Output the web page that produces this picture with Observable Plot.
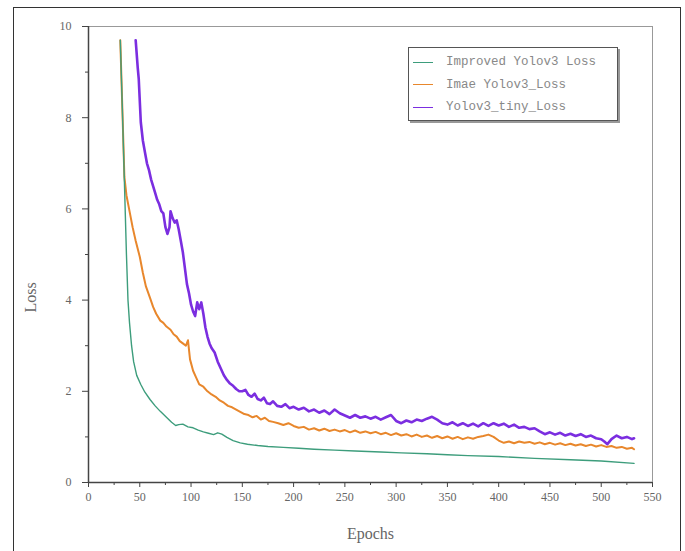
<!DOCTYPE html>
<html>
<head>
<meta charset="utf-8">
<script src="https://cdn.jsdelivr.net/npm/d3@7"></script>
<script src="https://cdn.jsdelivr.net/npm/@observablehq/plot@0.6"></script>
<style>
  html, body { margin: 0; padding: 0; background: #fff; }
  #wrap { position: relative; width: 685px; height: 551px; overflow: hidden; }
  #border { position: absolute; left: 13px; top: 7px; width: 668px; height: 560px; border: 1.5px solid #333; box-sizing: border-box; }
  #legend { position: absolute; left: 408px; top: 47px; width: 210px; height: 74px; border: 1.5px solid #555;
            box-shadow: 2px 2px 0 #999; background: #fff; box-sizing: border-box;
            font-family: "Liberation Mono", monospace; font-size: 12.5px; color: #888; }
  .row { position: absolute; left: 4px; height: 14px; display: flex; align-items: center; white-space: nowrap; }
  .sw { display: inline-block; width: 20px; height: 0; border-top: 1.5px solid; margin-right: 13px; }
  svg { position: absolute; left: 0; top: 0; }
</style>
</head>
<body>
<div id="wrap">
  <div id="border"></div>
</div>
<script>
// ---- data ----
const seriesNames = ["Improved Yolov3 Loss", "Imae Yolov3_Loss", "Yolov3_tiny_Loss"];
const seriesColors = ["#3d9d7c", "#e8872c", "#7b2ee0"];

const greenEpochs = [31,33,35,37,38.5,40,42,44,47,51,55,60,65,70,76,81,85,88,92,97,102,107,112,117,122,126,130,135,141,148,155,165,175,190,205,220,240,260,285,305,330,350,370,400,435,470,500,532];
const greenLoss   = [9.7,8.2,6.6,5.0,4.0,3.5,3.0,2.65,2.35,2.15,1.98,1.82,1.68,1.56,1.43,1.32,1.25,1.27,1.28,1.22,1.2,1.15,1.11,1.08,1.05,1.09,1.06,0.99,0.92,0.87,0.84,0.81,0.79,0.77,0.75,0.73,0.71,0.69,0.67,0.65,0.63,0.61,0.59,0.57,0.53,0.5,0.47,0.42];

const orangeEpochs = [31,33,35,37,40,43,46,50,53,56,60,63,66,70,73,76,80,83,86,89,92,95,97,99,102,105,108,112,116,120,124,128,132,136,140,144,148,152,156,160,164,168,172,176,180,185,190,195,200,205,210,215,220,225,230,235,240,245,250,255,260,265,270,275,280,285,290,295,300,305,310,315,320,325,330,335,340,345,350,355,360,365,370,375,380,385,390,395,400,405,410,415,420,425,430,435,440,445,450,455,460,465,470,475,480,485,490,495,500,505,510,515,520,525,530,532];
const orangeLoss   = [9.7,8.2,6.7,6.3,5.95,5.6,5.3,4.95,4.6,4.3,4.05,3.85,3.7,3.55,3.5,3.42,3.35,3.25,3.2,3.1,3.05,3.0,3.12,2.7,2.45,2.3,2.15,2.1,2.0,1.93,1.88,1.8,1.75,1.68,1.65,1.6,1.55,1.5,1.48,1.43,1.46,1.38,1.42,1.35,1.33,1.3,1.26,1.3,1.24,1.2,1.22,1.16,1.19,1.14,1.18,1.13,1.16,1.12,1.15,1.1,1.14,1.09,1.12,1.08,1.11,1.06,1.09,1.04,1.08,1.03,1.06,1.01,1.05,1.0,1.03,0.98,1.02,0.97,1.01,0.96,1.0,0.95,0.99,0.96,1.0,1.02,1.05,1.0,0.92,0.87,0.9,0.86,0.9,0.87,0.89,0.85,0.88,0.84,0.87,0.83,0.86,0.82,0.85,0.81,0.84,0.8,0.83,0.79,0.82,0.78,0.8,0.76,0.78,0.74,0.76,0.73];

const purpleEpochs = [46,48,49,51,53,55,57,59,61,63,65,67,69,71,73,75,77,79,80,82,84,86,88,90,92,94,96,98,100,102,104,106,108,110,112,114,116,118,120,123,126,129,132,135,138,141,144,147,150,153,156,159,162,165,168,171,174,177,180,184,188,192,196,200,205,210,215,220,225,230,235,240,245,250,255,260,265,270,275,280,285,290,295,300,305,310,315,320,325,330,335,340,345,350,355,360,365,370,375,380,385,390,395,400,405,410,415,420,425,430,435,440,445,450,455,460,465,470,475,480,485,490,495,500,503,506,510,515,520,525,530,532];
const purpleLoss   = [9.7,9.1,8.85,7.9,7.5,7.25,7.0,6.85,6.65,6.5,6.35,6.2,6.1,5.95,5.9,5.6,5.45,5.6,5.95,5.8,5.7,5.75,5.55,5.3,5.05,4.7,4.35,4.15,3.9,3.75,3.65,3.95,3.8,3.95,3.7,3.4,3.2,3.05,2.95,2.85,2.65,2.5,2.35,2.25,2.17,2.12,2.05,2.0,2.0,2.03,1.92,1.88,1.95,1.83,1.8,1.86,1.74,1.72,1.78,1.68,1.66,1.72,1.63,1.66,1.6,1.64,1.56,1.6,1.53,1.58,1.5,1.6,1.52,1.47,1.42,1.48,1.42,1.45,1.4,1.44,1.38,1.43,1.48,1.35,1.3,1.36,1.32,1.38,1.35,1.4,1.44,1.38,1.3,1.27,1.32,1.25,1.3,1.24,1.29,1.23,1.3,1.24,1.3,1.25,1.29,1.22,1.27,1.2,1.22,1.17,1.19,1.12,1.06,1.1,1.05,1.09,1.03,1.07,1.02,1.06,1.0,1.03,0.97,0.95,0.9,0.84,0.95,1.03,0.97,1.0,0.95,0.97];

const xTicks = [0,50,100,150,200,250,300,350,400,450,500,550];
const xMinor = [25,75,125,175,225,275,325,375,425,475,525];
const yTicks = [0,2,4,6,8,10];
const yMinor = [1,3,5,7,9];

// ---- build table ----
const rows = [];
[[greenEpochs, greenLoss], [orangeEpochs, orangeLoss], [purpleEpochs, purpleLoss]].forEach(([ep, ls], i) => {
  ep.forEach((e, j) => rows.push({series: seriesNames[i], epoch: e, loss: ls[j]}));
});

const font = '"Liberation Serif", serif';
const chart = Plot.plot({
  width: 685,
  height: 551,
  marginLeft: 88,
  marginRight: 33,
  marginTop: 26,
  marginBottom: 69,
  style: {fontFamily: font, fontSize: "12px", color: "#555", background: "transparent"},
  x: {domain: [0, 550]},
  y: {domain: [0, 10]},
  color: {domain: seriesNames, range: seriesColors},
  marks: [
    Plot.frame({stroke: "#999", strokeWidth: 1}),
    Plot.line(rows.filter(d => d.series === seriesNames[2]), {x: "epoch", y: "loss", stroke: "series", strokeWidth: 2.6}),
    Plot.line(rows.filter(d => d.series === seriesNames[1]), {x: "epoch", y: "loss", stroke: "series", strokeWidth: 2}),
    Plot.line(rows.filter(d => d.series === seriesNames[0]), {x: "epoch", y: "loss", stroke: "series", strokeWidth: 1.4}),
    Plot.ruleX([0], {stroke: "#444", strokeWidth: 1.5}),
    Plot.ruleY([0], {stroke: "#444", strokeWidth: 1.5}),
    Plot.axisX(xTicks, {tickSize: 5, tickPadding: 5, stroke: "#444", fill: "#666", fontSize: 12, label: null}),
    Plot.axisX(xMinor, {tickSize: 3, stroke: "#444", tickFormat: () => "", label: null}),
    Plot.axisY(yTicks, {tickSize: 6, tickPadding: 11, stroke: "#444", fill: "#666", fontSize: 12, label: null}),
    Plot.axisY(yMinor, {tickSize: 3, stroke: "#444", tickFormat: () => "", label: null}),
    Plot.text(["Epochs"], {frameAnchor: "bottom", dy: 56, fontSize: 16, fill: "#666"}),
    Plot.text(["Loss"], {frameAnchor: "left", dx: -58, dy: 58, rotate: -90, fontSize: 16, fill: "#666"})
  ]
});
document.getElementById("wrap").appendChild(chart);

// legend (HTML)
const lg = document.createElement("div");
lg.id = "legend";
seriesNames.forEach((n, i) => {
  const r = document.createElement("div");
  r.className = "row";
  r.style.top = (7 + i * 22.5) + "px";
  const sw = document.createElement("span");
  sw.className = "sw";
  sw.style.borderTopColor = seriesColors[i];
  r.appendChild(sw);
  r.appendChild(document.createTextNode(n));
  lg.appendChild(r);
});
document.getElementById("wrap").appendChild(lg);
</script>
</body>
</html>
